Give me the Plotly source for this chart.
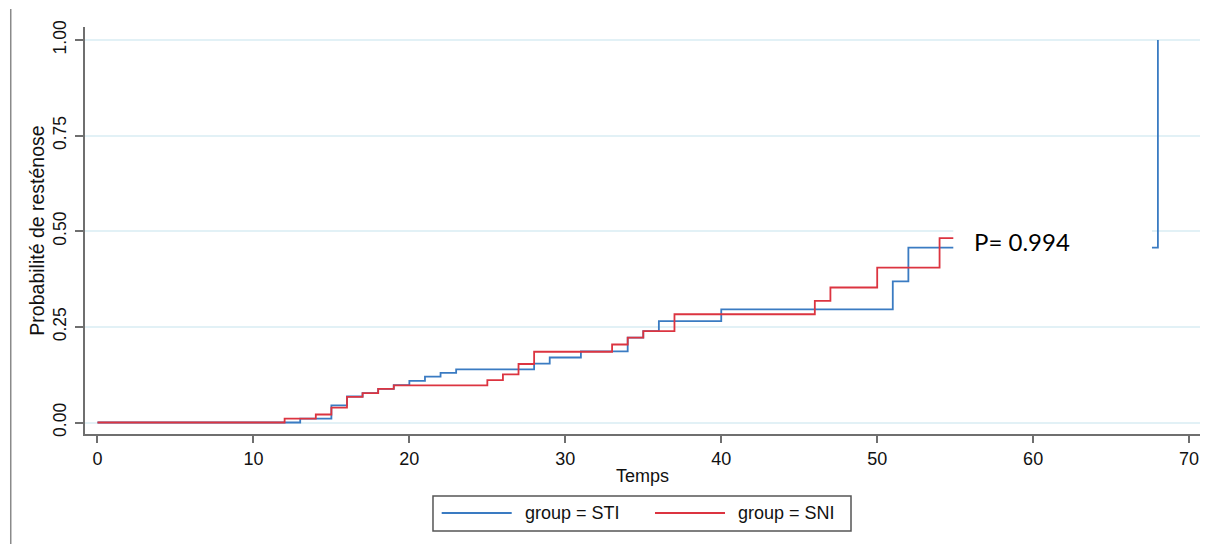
import plotly.graph_objects as go

# ---- data ----
sti_time = [0, 13, 15, 16, 17, 18, 19, 20, 21, 22, 23, 28, 29, 31, 34, 35, 36, 40, 51, 52, 68]
sti_prob = [0.0, 0.010, 0.045, 0.068, 0.077, 0.088, 0.098, 0.109, 0.120, 0.130, 0.139,
            0.154, 0.170, 0.186, 0.222, 0.239, 0.265, 0.296, 0.369, 0.457, 1.0]

sni_time = [0, 12, 14, 15, 16, 17, 18, 19, 25, 26, 27, 28, 33, 34, 35, 37, 46, 47, 50, 54, 55]
sni_prob = [0.0, 0.010, 0.021, 0.039, 0.067, 0.077, 0.088, 0.097, 0.111, 0.126, 0.153,
            0.185, 0.204, 0.222, 0.239, 0.283, 0.318, 0.353, 0.405, 0.482, 0.482]

x_ticks = [0, 10, 20, 30, 40, 50, 60, 70]
y_ticks = [0.0, 0.25, 0.50, 0.75, 1.0]
y_tick_labels = ["0.00", "0.25", "0.50", "0.75", "1.00"]

series_names = ["group = STI", "group = SNI"]
p_text = "P= 0.994"

BLUE = "#3a7bc2"
RED = "#dc3440"
AXIS = "#6f6f6f"
GRID = "#e2f1f6"
FONT = "Liberation Sans, Arial, sans-serif"

fig = go.Figure()
fig.add_trace(go.Scatter(x=sti_time, y=sti_prob, mode="lines", line_shape="hv",
                         line=dict(color=BLUE, width=1.8), name=series_names[0],
                         showlegend=False))
fig.add_trace(go.Scatter(x=sni_time, y=sni_prob, mode="lines", line_shape="hv",
                         line=dict(color=RED, width=1.8), name=series_names[1],
                         showlegend=False))

# white label box pasted over the chart (covers the right part of the curves)
fig.add_shape(type="rect", xref="x", yref="y", x0=54.88, x1=67.62, y0=0.37, y1=0.62,
              fillcolor="white", line=dict(width=0), layer="above")
fig.add_annotation(x=56.1, y=0.4745, xref="x", yref="y", text=p_text, showarrow=False,
                   xanchor="left", yanchor="middle",
                   font=dict(family="Lato, Open Sans, sans-serif", size=24, color="black"))

# manual legend (Stata style, long line samples)
fig.add_shape(type="rect", xref="paper", yref="paper", x0=0.3121, x1=0.687,
              y0=-0.2383, y1=-0.1523, line=dict(color="#555555", width=1.5),
              fillcolor="white")
leg_y = -0.1941
fig.add_shape(type="line", xref="paper", yref="paper", x0=0.3199, x1=0.3827,
              y0=leg_y, y1=leg_y, line=dict(color=BLUE, width=1.8))
fig.add_shape(type="line", xref="paper", yref="paper", x0=0.5112, x1=0.574,
              y0=leg_y, y1=leg_y, line=dict(color=RED, width=1.8))
fig.add_annotation(x=0.3925, y=leg_y, xref="paper", yref="paper", text=series_names[0],
                   showarrow=False, xanchor="left", yanchor="middle",
                   font=dict(family=FONT, size=18, color="#111111"))
fig.add_annotation(x=0.5836, y=leg_y, xref="paper", yref="paper", text=series_names[1],
                   showarrow=False, xanchor="left", yanchor="middle",
                   font=dict(family=FONT, size=18, color="#111111"))

# left frame line of the original screenshot
fig.add_shape(type="line", xref="paper", yref="paper", x0=-0.0666, x1=-0.0666,
              y0=1.044, y1=-0.30, line=dict(color="#8a8a8a", width=1.5))

# the page body adds an 8px offset, so the figure is shifted back by it
fig.update_layout(
    width=1209, height=536,
    margin=dict(l=77, r=17, t=19, b=110),
    paper_bgcolor="white", plot_bgcolor="white",
    font=dict(family=FONT, size=18, color="#111111"),
    showlegend=False,
)
fig.update_xaxes(
    range=[-0.8, 70.7], tickvals=x_ticks, showgrid=False, zeroline=False,
    showline=True, linecolor=AXIS, linewidth=2,
    ticks="outside", ticklen=7, tickwidth=1.5, tickcolor=AXIS,
    tickfont=dict(size=18, color="#111111"),
    title=dict(text="Temps", font=dict(size=18, color="#111111"), standoff=2),
)
fig.update_yaxes(
    range=[-0.03, 1.034], tickvals=y_ticks, ticktext=y_tick_labels, tickangle=-90,
    showgrid=True, gridcolor=GRID, gridwidth=1.5, zeroline=False,
    showline=True, linecolor=AXIS, linewidth=2,
    ticks="outside", ticklen=8, tickwidth=1.5, tickcolor=AXIS,
    tickfont=dict(size=17.5, color="#111111"), ticklabelstandoff=2,
    title=dict(text="Probabilité de resténose", font=dict(size=19.5, color="#111111"),
               standoff=0),
)

fig.write_html("out.html")
